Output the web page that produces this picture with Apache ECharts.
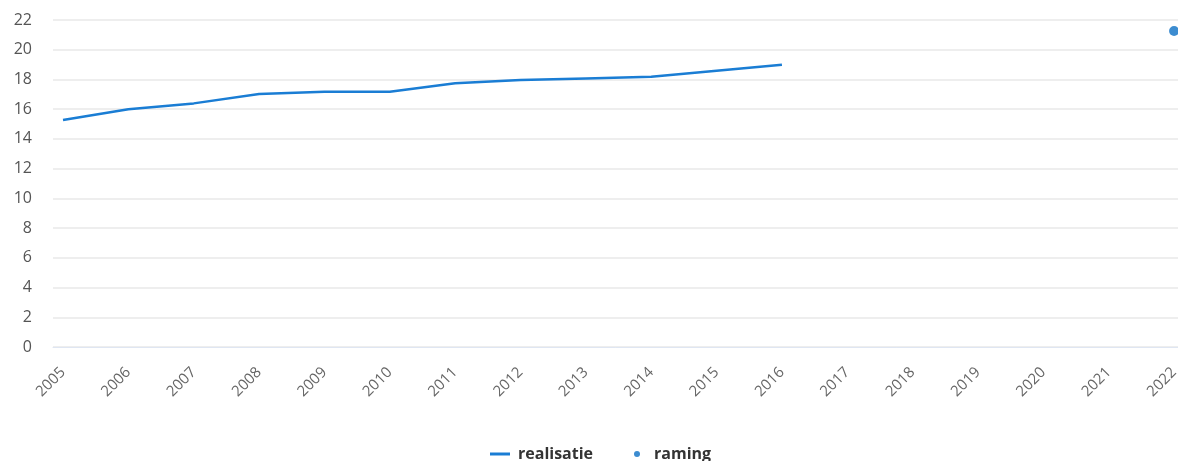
<!DOCTYPE html>
<html>
<head>
<meta charset="utf-8">
<script src="https://cdn.jsdelivr.net/npm/echarts@6/dist/echarts.min.js"></script>
<style>
  html, body { margin: 0; padding: 0; background: #fff; }
  #chart { width: 1178px; height: 461px; }
</style>
</head>
<body>
<div id="chart"></div>
<script>
const years = [2005, 2006, 2007, 2008, 2009, 2010, 2011, 2012, 2013, 2014, 2015, 2016, 2017, 2018, 2019, 2020, 2021, 2022]
const realisatieYears = [2005, 2006, 2007, 2008, 2009, 2010, 2011, 2012, 2013, 2014, 2015, 2016]
const realisatie = [15.27, 16.0, 16.39, 17.02, 17.17, 17.17, 17.74, 17.96, 18.07, 18.18, 18.59, 18.99]
const ramingYears = [2022]
const raming = [21.26]
const yTicks = [0, 2, 4, 6, 8, 10, 12, 14, 16, 18, 20, 22]

const chart = echarts.init(document.getElementById('chart'))

const font = '"Open Sans", "Noto Sans", sans-serif'
const legendText = { color: '#333', fontSize: 16, fontWeight: 'bold', fontFamily: font }

const option = {
  animation: false,
  textStyle: { fontFamily: font },
  grid: {
    left: 53,
    right: 0,
    top: 20,
    bottom: 114,
    outerBoundsMode: 'none'
  },
  // two legends so each icon can get its own size
  legend: [
    {
      top: 441,
      left: 485,
      itemWidth: 20,
      itemHeight: 3,
      icon: 'rect',
      textStyle: Object.assign({ padding: [0, 0, 0, 3] }, legendText),
      data: ['realisatie']
    },
    {
      top: 441,
      left: 629,
      itemWidth: 6,
      itemHeight: 6,
      icon: 'circle',
      textStyle: Object.assign({ padding: [0, 0, 0, 9] }, legendText),
      data: ['raming']
    }
  ],
  xAxis: {
    type: 'value',
    min: 2004.847,
    max: 2022.06,
    axisLine: { show: true, onZero: false, lineStyle: { color: '#dfe6f2', width: 1 } },
    axisTick: { show: false },
    splitLine: { show: false },
    axisLabel: {
      customValues: years,
      rotate: 45,
      verticalAlign: 'middle',
      margin: 23,
      color: '#666',
      fontSize: 15,
      fontFamily: font,
      formatter: v => String(v)
    }
  },
  yAxis: {
    type: 'value',
    min: 0,
    max: 22,
    interval: 2,
    axisLine: { show: false },
    axisTick: { show: false },
    splitLine: { lineStyle: { color: '#e8e8e8', width: 1.5 } },
    axisLabel: {
      margin: 21,
      color: '#555',
      fontSize: 16,
      fontFamily: font,
      formatter: v => (yTicks.includes(v) ? String(v) : '')
    }
  },
  series: [
    {
      name: 'realisatie',
      type: 'line',
      symbol: 'none',
      lineStyle: { color: '#1a7dd4', width: 2.5 },
      itemStyle: { color: '#1a7dd4' },
      data: realisatieYears.map((y, i) => [y, realisatie[i]])
    },
    {
      name: 'raming',
      type: 'scatter',
      symbolSize: 10,
      itemStyle: { color: '#0b6fc4' },
      data: ramingYears.map((y, i) => [y, raming[i]])
    }
  ]
}

chart.setOption(option)
</script>
</body>
</html>
